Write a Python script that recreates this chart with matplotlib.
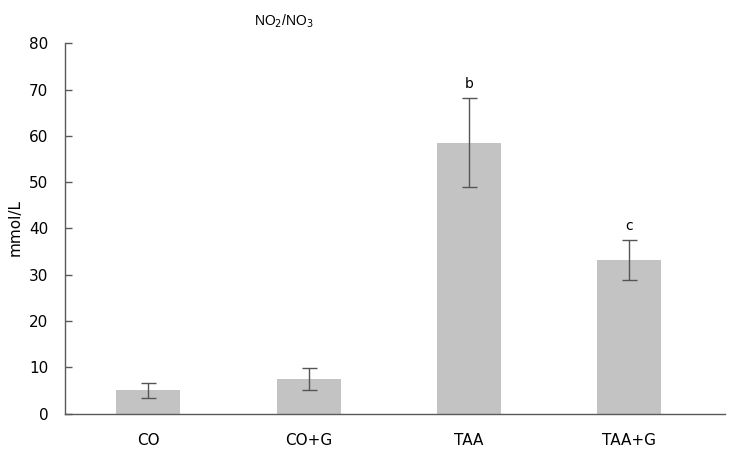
import numpy as np
import matplotlib.pyplot as plt

# data
groups = ['CO', 'CO+G', 'TAA', 'TAA+G']
means = [5.0, 7.5, 58.5, 33.2]
errs = [1.6, 2.4, 9.6, 4.3]
marks = ['', '', 'b', 'c']

plt.rcParams['font.family'] = 'DejaVu Sans'

fig = plt.figure(figsize=(7.35, 4.59), dpi=100)
ax = fig.add_axes([65 / 735, 1 - 413.5 / 459, 660 / 735, 370.2 / 459])

x = np.arange(len(groups))
ax.bar(x, means, width=0.4, color='#c3c3c3', zorder=2)
ax.errorbar(x, means, yerr=errs, fmt='none', ecolor='#555555',
            elinewidth=1, capsize=5.4, capthick=1, zorder=3)

for xi, m, e, t in zip(x, means, errs, marks):
    if t:
        ax.annotate(t, (xi, m + e), xytext=(0, 5), textcoords='offset points',
                    ha='center', va='bottom', fontsize=10)

ax.set_xlim(-0.519, 3.596)
ax.set_ylim(0, 80)
ax.set_yticks(np.arange(0, 81, 10))
ax.set_xticks(x)
ax.set_xticklabels(groups)

for s in ['top', 'right']:
    ax.spines[s].set_visible(False)
for s in ['left', 'bottom']:
    ax.spines[s].set_color('#595959')
    ax.spines[s].set_linewidth(1)

ax.tick_params(axis='y', direction='in', length=5, width=1, color='#595959',
               labelsize=11, pad=12)
ax.tick_params(axis='x', length=0, labelsize=11, pad=14)

fig.text(15 / 735, 1 - 228 / 459, 'mmol/L', rotation=90, ha='center',
         va='center', fontsize=11)
fig.text(284 / 735, 1 - 21 / 459, r'NO$_2$/NO$_3$', ha='center', va='center',
         fontsize=10, family='Liberation Sans')

fig.savefig('out.png', dpi=100)
